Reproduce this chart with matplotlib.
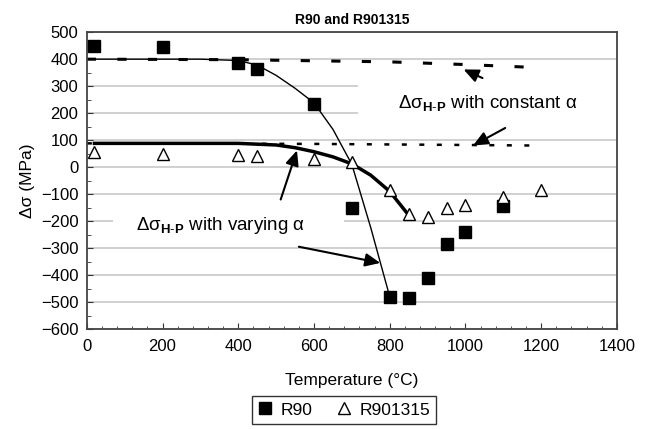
import matplotlib
matplotlib.use("Agg")
import matplotlib.pyplot as plt
from matplotlib.patches import Rectangle
from matplotlib.ticker import MultipleLocator

plt.rcParams['font.family'] = ['Liberation Sans', 'DejaVu Sans']
plt.rcParams['mathtext.fontset'] = 'custom'
plt.rcParams['mathtext.rm'] = 'Liberation Sans'
plt.rcParams['mathtext.bf'] = 'Liberation Sans:bold'
plt.rcParams['mathtext.it'] = 'Liberation Sans:italic'

# measured points
r90_t = [20, 200, 400, 450, 600, 700, 800, 850, 900, 950, 1000, 1100]
r90_ds = [450, 445, 385, 365, 235, -150, -480, -485, -410, -285, -240, -145]
r9013_t = [20, 200, 400, 450, 600, 700, 800, 850, 900, 950, 1000, 1100, 1200]
r9013_ds = [55, 50, 45, 40, 30, 20, -85, -175, -185, -150, -140, -110, -85]

# H-P model, varying alpha
r90_var_t = [0, 300, 400, 450, 500, 550, 600, 650, 700, 750, 800]
r90_var_ds = [400, 400, 395, 378, 340, 292, 238, 140, 10, -225, -480]
r9013_var_t = [20, 400, 500, 550, 600, 650, 700, 750, 800, 850]
r9013_var_ds = [88, 88, 82, 72, 57, 38, 12, -30, -90, -178]

# H-P model, constant alpha
r90_const_t = [0, 400, 800, 1000, 1170]
r90_const_ds = [400, 398, 390, 380, 370]
r9013_const_t = [0, 600, 1000, 1180]
r9013_const_ds = [88, 86, 82, 80]

fig = plt.figure(figsize=(6.48, 4.29), dpi=100)
ax = fig.add_axes([0.134, 0.233, 0.818, 0.692])

ax.set_xlim(0, 1400)
ax.set_ylim(-600, 500)
ax.xaxis.set_major_locator(MultipleLocator(200))
ax.xaxis.set_minor_locator(MultipleLocator(40))
ax.yaxis.set_major_locator(MultipleLocator(100))
ax.yaxis.set_minor_locator(MultipleLocator(50))
ax.tick_params(which='both', direction='in', labelsize=12, color='#333333')
ax.tick_params(axis='x', which='major', length=4, pad=7)
ax.tick_params(axis='x', which='minor', length=2.5)
ax.tick_params(axis='y', which='major', length=4, pad=6)
ax.tick_params(axis='y', which='minor', length=3)
for s in ax.spines.values():
    s.set_color('#444444')
    s.set_linewidth(1.3)

ax.set_axisbelow(True)
ax.yaxis.grid(True, color='#c8c8c8', linewidth=1.2)

# white boxes behind the annotation texts
ax.add_patch(Rectangle((716, 175), 684, 145, facecolor='white', edgecolor='none', zorder=1))
ax.add_patch(Rectangle((69, -265), 610, 130, facecolor='white', edgecolor='none', zorder=1))

ax.plot(r90_const_t, r90_const_ds, color='black', lw=2.2, dashes=(3, 7), zorder=2)
ax.plot(r9013_const_t, r9013_const_ds, color='black', lw=1.8, dashes=(2, 5), zorder=2)
ax.plot(r90_var_t, r90_var_ds, color='black', lw=1.0, zorder=2)
ax.plot(r9013_var_t, r9013_var_ds, color='black', lw=2.5, zorder=2)

ax.plot(r90_t, r90_ds, 's', color='black', ms=9, ls='none', zorder=3, label='R90')
ax.plot(r9013_t, r9013_ds, '^', mfc='white', mec='black', mew=1.0, ms=9, ls='none', zorder=3,
        label='R901315')

sub = r'Δσ$_{\mathbf{H\text{-}P}}$'
ax.text(1060, 237, sub + ' with constant α', fontsize=13.5, ha='center', va='center', zorder=4)
ax.text(352, -215, sub + ' with varying α', fontsize=13.5, ha='center', va='center', zorder=4)

arw = dict(arrowstyle='-|>,head_length=0.9,head_width=0.4', color='black', lw=1.5, shrinkA=0, shrinkB=0)
ax.annotate('', xy=(995, 362), xytext=(1045, 330), arrowprops=arw, zorder=4)
ax.annotate('', xy=(1020, 80), xytext=(1105, 145), arrowprops=arw, zorder=4)
ax.annotate('', xy=(555, 62), xytext=(512, -120), arrowprops=arw, zorder=4)
ax.annotate('', xy=(775, -355), xytext=(560, -295), arrowprops=arw, zorder=4)

ax.set_title('R90 and R901315', fontsize=10, fontweight='bold', pad=6)
ax.set_xlabel('Temperature (°C)', fontsize=12.5, labelpad=14)
ax.set_ylabel('Δσ (MPa)', fontsize=12.5, labelpad=4)

handles, labels = ax.get_legend_handles_labels()
leg = fig.legend(handles, labels, loc='center', bbox_to_anchor=(344 / 648, 1 - 410 / 429), ncol=2,
                 fontsize=12.5, frameon=True, fancybox=False, edgecolor='black', handlelength=0.8,
                 handletextpad=0.5, columnspacing=1.4, borderpad=0.35)
leg.get_frame().set_linewidth(1.0)

fig.savefig('out.png', dpi=100)
